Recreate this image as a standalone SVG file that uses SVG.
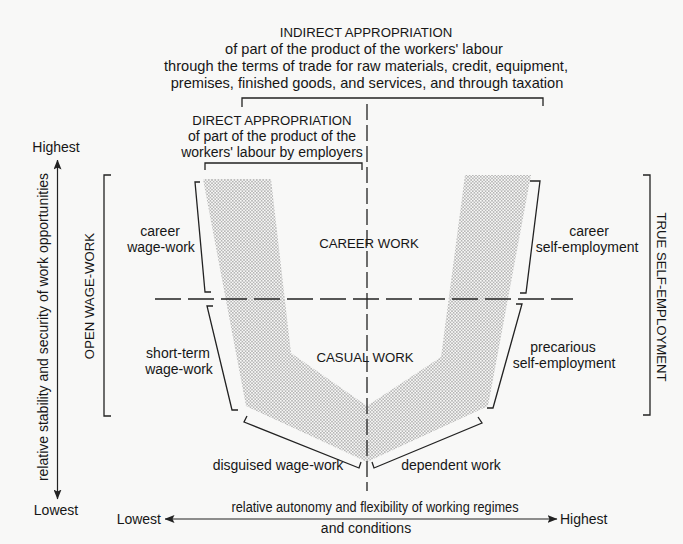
<svg xmlns="http://www.w3.org/2000/svg" width="683" height="544" viewBox="0 0 683 544">
  <defs>
    <style>
      text { font-family: "Liberation Sans", Arial, Helvetica, sans-serif; fill: #161616; }
      .lbl { font-size: 14px; text-anchor: middle; }
      .cap { font-size: 13.2px; text-anchor: middle; }
      .body { font-size: 14.6px; text-anchor: middle; }
      .brk { fill: none; stroke: #222; stroke-width: 1.3; stroke-linejoin: miter; }
      .axis { fill: none; stroke: #222; stroke-width: 1.2; }
      .dash-h { fill: none; stroke: #222; stroke-width: 1.4; stroke-dasharray: 26 7; }
      .dash-v { fill: none; stroke: #222; stroke-width: 1.3; stroke-dasharray: 16 5; }
    </style>
    <!-- halftone stipple for the band of work types -->
    <pattern id="stipple" patternUnits="userSpaceOnUse" width="3.2" height="3.2">
      <circle cx="0.8" cy="0.8" r="0.62" fill="#555"/>
      <circle cx="2.4" cy="2.4" r="0.62" fill="#555"/>
    </pattern>
    <marker id="arrow" viewBox="0 0 10 8" refX="9.5" refY="4" markerWidth="10" markerHeight="8" markerUnits="userSpaceOnUse" orient="auto-start-reverse">
      <path d="M0,0 L10,4 L0,8 L2,4 z" fill="#222"/>
    </marker>
  </defs>

  <rect width="683" height="544" fill="#f8f8f7"/>

  <!-- heading block: indirect appropriation -->
  <g id="indirect-appropriation">
    <text class="cap" x="366" y="37">INDIRECT APPROPRIATION</text>
    <text class="body" x="364" y="54">of part of the product of the workers' labour</text>
    <text class="body" x="366" y="71">through the terms of trade for raw materials, credit, equipment,</text>
    <text class="body" x="367" y="88">premises, finished goods, and services, and through taxation</text>
    <path class="brk" d="M242,107 V98 H543 V106"/>
  </g>

  <!-- direct appropriation by employers -->
  <g id="direct-appropriation">
    <text class="cap" x="272" y="125">DIRECT APPROPRIATION</text>
    <text class="lbl" x="272" y="141">of part of the product of the</text>
    <text class="lbl" x="272" y="157">workers' labour by employers</text>
    <path class="brk" d="M205,170 V163 H362 V170"/>
  </g>

  <!-- stippled U-shaped band -->
  <g id="work-band">
    <path fill="url(#stipple)" d="M203,179 L271,179 L291,353 L367,406 L441,357 L465,175 L531,175 L488,406 L367,462 L246,406 Z"/>
  </g>

  <!-- central region labels -->
  <g id="career-work">
    <text class="cap" x="369" y="248">CAREER WORK</text>
  </g>
  <g id="casual-work">
    <text class="cap" x="365" y="362">CASUAL WORK</text>
  </g>

  <!-- left side: wage-work -->
  <g id="career-wage-work">
    <text class="lbl" x="160" y="236">career</text>
    <text class="lbl" x="161" y="252">wage-work</text>
    <path class="brk" d="M200,182 H195 L205,292 H211"/>
  </g>
  <g id="short-term-wage-work">
    <text class="lbl" x="178" y="358">short-term</text>
    <text class="lbl" x="179" y="374">wage-work</text>
    <path class="brk" d="M213,306 H207 L232,410 H238"/>
  </g>
  <g id="open-wage-work">
    <text class="cap" transform="translate(94,296) rotate(-90)">OPEN WAGE-WORK</text>
    <path class="brk" d="M111,175 H104 V416 H111"/>
  </g>

  <!-- right side: self-employment -->
  <g id="career-self-employment">
    <text class="lbl" x="589" y="236">career</text>
    <text class="lbl" x="587" y="252">self-employment</text>
    <path class="brk" d="M530,181 H540 L526,293 H520"/>
  </g>
  <g id="precarious-self-employment">
    <text class="lbl" x="563" y="352">precarious</text>
    <text class="lbl" x="564" y="368">self-employment</text>
    <path class="brk" d="M516,304 H522 L493,408 H487"/>
  </g>
  <g id="true-self-employment">
    <text class="cap" transform="translate(657,297) rotate(90)">TRUE SELF-EMPLOYMENT</text>
    <path class="brk" d="M643,175 H650 V415 H643"/>
  </g>

  <!-- bottom: disguised and dependent work -->
  <g id="disguised-wage-work">
    <text class="lbl" x="278" y="470">disguised wage-work</text>
    <path class="brk" d="M247,416 L244,422 L359,468 L361,462"/>
  </g>
  <g id="dependent-work">
    <text class="lbl" x="451" y="470">dependent work</text>
    <path class="brk" d="M372,462 L374,468 L482,423 L478,417"/>
  </g>

  <!-- dividing lines and axes -->
  <g id="connectors">
    <line class="dash-h" x1="155" y1="299" x2="573" y2="299"/>
    <line class="dash-v" x1="367" y1="104" x2="367" y2="491"/>
    <line class="axis" x1="57.5" y1="499" x2="57.5" y2="160" marker-start="url(#arrow)" marker-end="url(#arrow)"/>
    <line class="axis" x1="165" y1="519" x2="557" y2="519" marker-start="url(#arrow)" marker-end="url(#arrow)"/>
  </g>

  <!-- axis labels -->
  <g id="vertical-axis">
    <text class="lbl" x="56" y="152">Highest</text>
    <text class="lbl" x="56" y="515">Lowest</text>
    <text class="lbl" transform="translate(48,327) rotate(-90)">relative stability and security of work opportunities</text>
  </g>
  <g id="horizontal-axis">
    <text class="lbl" x="375" y="512" textLength="287" lengthAdjust="spacingAndGlyphs">relative autonomy and flexibility of working regimes</text>
    <text class="lbl" x="366" y="533">and conditions</text>
    <text font-size="14" x="161" y="524" text-anchor="end">Lowest</text>
    <text font-size="14" x="560" y="524">Highest</text>
  </g>
</svg>
